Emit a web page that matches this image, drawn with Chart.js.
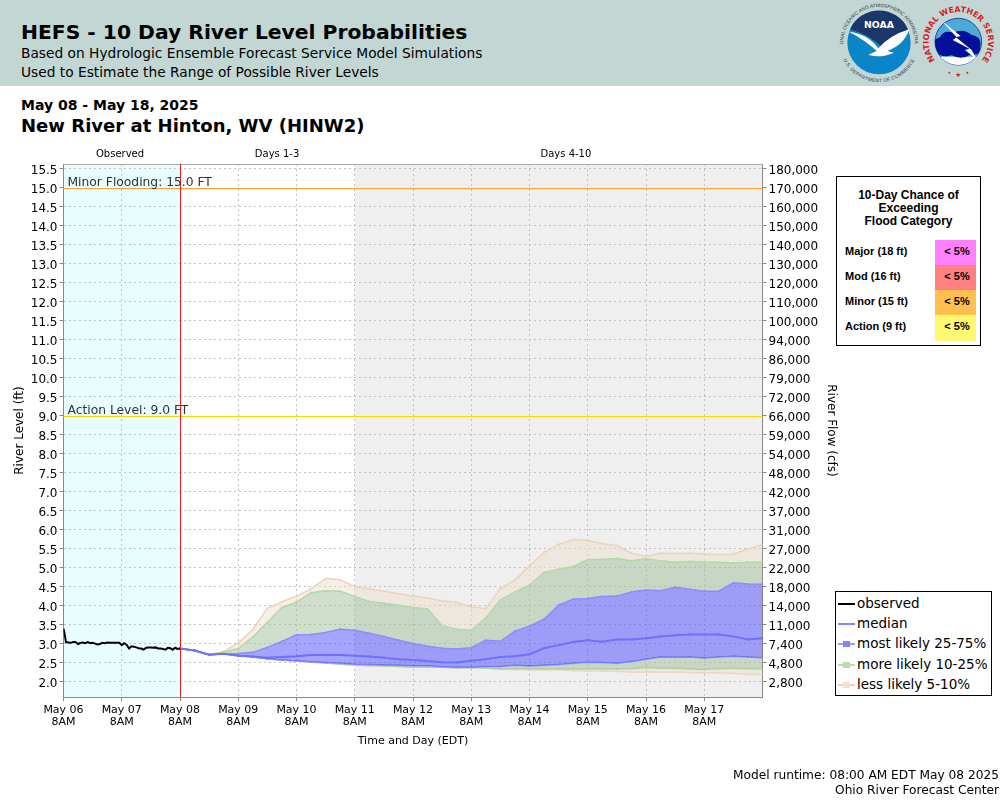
<!DOCTYPE html>
<html>
<head>
<meta charset="utf-8">
<title>HEFS - 10 Day River Level Probabilities</title>
<script src="https://cdn.jsdelivr.net/npm/chart.js@4"></script>
<style>
body { margin: 0; background: #fff; font-family: "DejaVu Sans", sans-serif; color: #000; }
#page { position: relative; width: 1000px; height: 800px; overflow: hidden; }
#head { position: absolute; left: 0; top: 0; width: 1000px; height: 86px; background: #c2d7d4; }
.t { position: absolute; white-space: nowrap; line-height: 1; }
#plot { position: absolute; left: 0; top: 0; }
#flood { position: absolute; left: 836px; top: 176px; width: 143px; height: 168px; border: 1px solid #000; background: #fff; font: bold 11px "Liberation Sans", sans-serif; }
#flood .h { position: absolute; left: 0; width: 100%; top: 12px; text-align: center; font-size: 12px; line-height: 13px; }
#flood .lab { position: absolute; left: 8px; }
#flood .cell { position: absolute; left: 98px; width: 41px; text-align: center; text-indent: 3px; }
#legend { position: absolute; left: 835px; top: 591px; width: 155px; height: 103px; border: 1px solid #000; background: #fff; font-size: 13.5px; }
#legend .row { position: absolute; left: 21px; white-space: nowrap; line-height: 16px; }
#legend .ln { position: absolute; left: 2px; width: 17px; height: 2px; }
#legend .mk { position: absolute; left: 7px; width: 7px; height: 6px; }
</style>
</head>
<body>
<div id="page">
  <div id="head"></div>
  <div class="t" style="left:21px;top:22px;font-size:20.3px;font-weight:bold">HEFS - 10 Day River Level Probabilities</div>
  <div class="t" style="left:21px;top:47px;font-size:13.75px">Based on Hydrologic Ensemble Forecast Service Model Simulations</div>
  <div class="t" style="left:21px;top:66px;font-size:13.75px">Used to Estimate the Range of Possible River Levels</div>
  <div class="t" style="left:21px;top:98px;font-size:14px;font-weight:bold">May 08 - May 18, 2025</div>
  <div class="t" style="left:21px;top:117px;font-size:18.05px;font-weight:bold">New River at Hinton, WV (HINW2)</div>

  <svg style="position:absolute;left:830px;top:0" width="170" height="90" viewBox="0 0 510 270">
    <defs>
      <path id="noaaTop" d="M 40 128 A 107 107 0 0 1 254 128"/>
      <path id="noaaBot" d="M 38 128 A 109 109 0 0 0 256 128" />
      <path id="nwsArc" d="M 321 187 A 89 89 0 1 1 449 187"/>
      <clipPath id="nwsClip"><circle cx="385" cy="125" r="70"/></clipPath>
    </defs>
    <circle cx="147" cy="128" r="95" fill="#0a85c7"/>
    <path d="M 60 88 A 95 95 0 0 1 234 88 Q 190 110 160 145 Q 120 105 60 88 Z" fill="#1b3668"/>
    <path d="M 57 95 Q 115 102 145 145 Q 180 105 238 88 Q 222 135 172 153 L 192 158 Q 150 176 115 164 L 140 153 Q 108 122 57 95 Z" fill="#fff"/>
    <text x="147" y="84" text-anchor="middle" font-family="DejaVu Sans" font-weight="bold" font-size="28" fill="#fff">NOAA</text>
    <text font-family="Liberation Sans" font-size="14.5" fill="#234"><textPath href="#noaaTop" startOffset="50%" text-anchor="middle">NATIONAL OCEANIC AND ATMOSPHERIC ADMINISTRATION</textPath></text>
    <text font-family="Liberation Sans" font-size="14.5" fill="#234"><textPath href="#noaaBot" startOffset="50%" text-anchor="middle" dominant-baseline="hanging">U.S. DEPARTMENT OF COMMERCE</textPath></text>

    <circle cx="385" cy="125" r="70" fill="#4ea8d8" stroke="#1b4f9c" stroke-width="3"/>
    <g clip-path="url(#nwsClip)">
      <path d="M 315 170 L 460 170 L 460 200 L 315 200 Z" fill="#fff"/>
      <path d="M 312 150 Q 300 120 330 112 Q 340 88 370 98 Q 400 84 424 104 Q 458 110 450 140 Q 454 168 424 163 Q 395 182 365 166 Q 332 176 312 150 Z" fill="#03109a"/>
      <path d="M 335 62 L 392 108 L 378 112 L 425 150 L 440 178 L 405 150 L 418 146 L 368 120 L 380 112 Z" fill="#fff"/>
    </g>
    <text font-family="DejaVu Sans" font-weight="bold" font-size="24" fill="#d4202a"><textPath href="#nwsArc" startOffset="50%" text-anchor="middle">NATIONAL WEATHER SERVICE</textPath></text>
    <text x="385" y="232" text-anchor="middle" font-size="20" fill="#d4202a">★</text>
    <circle cx="358" cy="218" r="3" fill="#d4202a"/><circle cx="412" cy="218" r="3" fill="#d4202a"/>
  </svg>

  <canvas id="plot" width="1000" height="800"></canvas>

  <div id="flood"></div>
  <div id="legend"></div>

  <div class="t" style="right:1px;top:769px;font-size:12.2px">Model runtime: 08:00 AM EDT May 08 2025</div>
  <div class="t" style="right:1px;top:784px;font-size:12.2px">Ohio River Forecast Center</div>
</div>

<script>
// hours since May 06 8AM
const obsHours = [0,0.5,1,2,3,4,5,6,7,8,9,10,11,12,13,14,15,16,17,18,19,20,21,22,23,24,
25,26,27,28,29,30,31,32,33,34,35,36,37,38,39,40,41,42,43,44,45,46,47,48];
const observed = [3.40,3.25,3.05,3.04,3.03,3.05,3.05,3.00,3.03,3.04,3.02,3.05,3.02,3.03,3.01,2.99,3.00,3.03,3.02,3.04,3.03,3.03,3.03,3.03,3.03,2.97,
3.02,2.98,2.88,2.94,2.93,2.91,2.89,2.88,2.85,2.90,2.91,2.91,2.90,2.91,2.88,2.88,2.87,2.85,2.90,2.89,2.85,2.90,2.87,2.88];

const fcstHours = [48,54,60,66,72,78,84,90,96,102,108,114,120,126,132,138,144,150,156,162,168,
174,180,186,192,198,204,210,216,222,228,234,240,246,252,258,264,270,276,282,288];
const median = [2.88,2.83,2.72,2.74,2.69,2.67,2.64,2.66,2.68,2.71,2.71,2.71,2.69,2.67,2.64,2.60,2.58,2.55,2.52,2.51,2.56,
2.60,2.66,2.68,2.73,2.89,2.97,3.05,3.10,3.06,3.12,3.12,3.15,3.20,3.23,3.25,3.25,3.25,3.20,3.12,3.15];
const mostUpper = [2.88,2.83,2.72,2.74,2.75,2.78,2.91,3.07,3.24,3.25,3.30,3.39,3.36,3.28,3.20,3.10,3.01,2.94,2.89,2.87,2.90,
3.10,3.07,3.34,3.47,3.65,4.02,4.18,4.20,4.25,4.26,4.37,4.42,4.40,4.49,4.44,4.39,4.39,4.61,4.58,4.57];
const mostLower = [2.88,2.83,2.72,2.74,2.70,2.66,2.61,2.58,2.56,2.53,2.51,2.49,2.47,2.46,2.45,2.44,2.43,2.43,2.40,2.39,2.39,
2.41,2.41,2.44,2.42,2.44,2.46,2.49,2.52,2.51,2.49,2.54,2.60,2.66,2.65,2.66,2.63,2.66,2.68,2.66,2.64];
const moreUpper = [2.88,2.83,2.72,2.78,2.88,3.18,3.57,3.96,4.10,4.35,4.40,4.39,4.25,4.12,4.07,4.02,3.96,3.92,3.48,3.39,3.36,
3.69,4.16,4.37,4.55,4.88,4.97,5.04,5.22,5.23,5.25,5.19,5.24,5.19,5.15,5.17,5.16,5.15,5.13,5.15,5.15];
const moreLower = [2.88,2.83,2.72,2.74,2.70,2.66,2.61,2.57,2.55,2.52,2.50,2.47,2.45,2.43,2.42,2.41,2.39,2.39,2.39,2.37,2.37,
2.37,2.34,2.34,2.34,2.34,2.34,2.34,2.35,2.34,2.34,2.35,2.38,2.36,2.36,2.34,2.33,2.35,2.36,2.35,2.34];
const lessUpper = [2.88,2.83,2.72,2.80,3.03,3.38,3.94,4.11,4.26,4.45,4.72,4.69,4.51,4.45,4.39,4.32,4.26,4.21,4.14,4.09,3.98,
3.93,4.46,4.68,5.06,5.41,5.62,5.75,5.72,5.64,5.59,5.39,5.30,5.39,5.38,5.39,5.37,5.35,5.36,5.50,5.62];
const lessLower = [2.88,2.83,2.72,2.74,2.70,2.66,2.61,2.57,2.55,2.52,2.50,2.47,2.45,2.43,2.42,2.41,2.39,2.39,2.39,2.37,2.37,
2.37,2.34,2.33,2.32,2.32,2.32,2.30,2.29,2.29,2.28,2.26,2.27,2.26,2.26,2.25,2.24,2.24,2.23,2.20,2.20];

const levelTicks = [2,2.5,3,3.5,4,4.5,5,5.5,6,6.5,7,7.5,8,8.5,9,9.5,10,10.5,11,11.5,12,12.5,13,13.5,14,14.5,15,15.5];
const flowTicks = ['2,800','4,800','7,400','11,000','14,000','18,000','22,000','27,000','31,000','37,000','42,000','48,000','54,000','59,000',
'66,000','72,000','79,000','86,000','94,000','100,000','110,000','120,000','130,000','140,000','150,000','160,000','170,000','180,000'];
const dayHours = [0,24,48,72,96,120,144,168,192,216,240,264];
const dayLabels = ['May 06','May 07','May 08','May 09','May 10','May 11','May 12','May 13','May 14','May 15','May 16','May 17'];

const minorLevel = 15;
const actionLevel = 9;
const nowHour = 48;
const day4Hour = 120;
const endHour = 288;
const levelMin = 1.605;
const levelMax = 15.63;

const floodLabels = ['Major (18 ft)','Mod (16 ft)','Minor (15 ft)','Action (9 ft)'];
const floodChance = ['< 5%','< 5%','< 5%','< 5%'];
const floodColors = ['#ff80ff','#ff8080','#ffc050','#fff870'];

const legendLabels = ['observed','median','most likely 25-75%','more likely 10-25%','less likely 5-10%'];
const legendLines = ['#000','#8484ff','#9c9cff','#bcdcb0','#ead4bc'];
const legendMarks = [null,null,'#8484f4','#b8dcac','#efe2d2'];

// flood table and legend
const flood = document.getElementById('flood');
flood.innerHTML = '<div class="h">10-Day Chance of<br>Exceeding<br>Flood Category</div>';
floodLabels.forEach(function (lab, i) {
  const top = 63 + i * 25;
  flood.innerHTML += '<div class="lab" style="top:' + (top + 5) + 'px">' + lab + '</div>' +
    '<div class="cell" style="top:' + top + 'px;height:' + (i == 3 ? 26 : 25) + 'px;line-height:' + 23 + 'px;background:' + floodColors[i] + '">' + floodChance[i].replace('<', '&lt;') + '</div>';
});
const legend = document.getElementById('legend');
legendLabels.forEach(function (lab, i) {
  const top = 3 + i * 20.2;
  let html = '<div class="row" style="top:' + top + 'px">' + lab + '</div>' +
    '<div class="ln" style="top:' + (top + 8) + 'px;background:' + legendLines[i] + '"></div>';
  if (legendMarks[i]) html += '<div class="mk" style="top:' + (top + 6) + 'px;background:' + legendMarks[i] + '"></div>';
  legend.innerHTML += html;
});

function pts(xs, ys) {
  return xs.map(function (x, i) { return { x: x, y: ys[i] }; });
}

const tanFill = 'rgba(237,223,205,0.5)';
const greenFill = 'rgba(161,191,151,0.5)';
const blueFill = 'rgba(75,75,255,0.5)';

function band(label, ys, line, fill, target) {
  return {
    label: label, data: pts(fcstHours, ys), borderColor: line, borderWidth: 1.5,
    pointRadius: 1.2, pointStyle: 'rect', pointBackgroundColor: line, pointBorderWidth: 0,
    tension: 0, fill: target === null ? false : { target: target }, backgroundColor: fill
  };
}

// shading behind the grid, flood and now lines, outline and captions on top
const plotExtras = {
  id: 'plotExtras',
  beforeDraw: function (chart) {
    const c = chart.ctx, a = chart.chartArea, x = chart.scales.x;
    c.save();
    c.fillStyle = '#e8fdfd';
    c.fillRect(x.getPixelForValue(0), a.top, x.getPixelForValue(nowHour) - x.getPixelForValue(0), a.height);
    c.fillStyle = '#efefef';
    c.fillRect(x.getPixelForValue(day4Hour), a.top, x.getPixelForValue(endHour) - x.getPixelForValue(day4Hour), a.height);
    c.restore();
  },
  afterDraw: function (chart) {
    const c = chart.ctx, a = chart.chartArea, x = chart.scales.x, y = chart.scales.y;
    c.save();
    c.lineWidth = 1;
    c.strokeStyle = '#aaa';
    c.beginPath();
    c.moveTo(a.left, a.top + 0.5); c.lineTo(a.right + 0.5, a.top + 0.5);
    c.stroke();

    const py15 = Math.round(y.getPixelForValue(minorLevel)) + 0.5;
    const py9 = Math.round(y.getPixelForValue(actionLevel)) + 0.5;
    c.strokeStyle = '#ffa030';
    c.beginPath(); c.moveTo(a.left, py15); c.lineTo(a.right, py15); c.stroke();
    c.strokeStyle = '#ffd400';
    c.beginPath(); c.moveTo(a.left, py9); c.lineTo(a.right, py9); c.stroke();
    const px = Math.floor(x.getPixelForValue(nowHour)) + 0.5;
    c.strokeStyle = '#f01818';
    c.beginPath(); c.moveTo(px, a.top); c.lineTo(px, a.bottom); c.stroke();

    c.fillStyle = '#333';
    c.font = '12.3px "DejaVu Sans"';
    c.textBaseline = 'alphabetic';
    c.fillText('Minor Flooding: 15.0 FT', a.left + 4, py15 - 3);
    c.fillText('Action Level: 9.0 FT', a.left + 4, py9 - 3);
    c.fillStyle = '#000';
    c.font = '10px "DejaVu Sans"';
    c.textAlign = 'center';
    c.fillText('Observed', x.getPixelForValue(23.3), 157);
    c.fillText('Days 1-3', x.getPixelForValue(88), 157);
    c.fillText('Days 4-10', x.getPixelForValue(207), 157);
    c.restore();
  }
};

new Chart(document.getElementById('plot'), {
  type: 'line',
  plugins: [plotExtras],
  data: {
    datasets: [
      { label: 'observed', data: pts(obsHours, observed), borderColor: '#000', borderWidth: 2, pointRadius: 0, tension: 0 },
      { label: 'median', data: pts(fcstHours, median), borderColor: '#7070ff', borderWidth: 2, pointRadius: 1.3, pointStyle: 'rect', pointBackgroundColor: '#7070ff', pointBorderWidth: 0, tension: 0 },
      band('most likely upper', mostUpper, '#8c8cff', blueFill, 3),   // 2
      band('most likely lower', mostLower, '#8c8cff', greenFill, 5),  // 3
      band('more likely upper', moreUpper, '#b4d8a8', greenFill, 2),  // 4
      band('more likely lower', moreLower, '#b4d8a8', tanFill, 7),    // 5
      band('less likely upper', lessUpper, '#ead4bc', tanFill, 4),    // 6
      band('less likely lower', lessLower, '#ead4bc', tanFill, null)  // 7
    ]
  },
  options: {
    responsive: false,
    animation: false,
    devicePixelRatio: 1,
    layout: { padding: { left: 13, right: 162, top: 164, bottom: 52 } },
    plugins: { legend: { display: false }, tooltip: { enabled: false } },
    scales: {
      x: {
        type: 'linear', min: 0, max: endHour,
        afterBuildTicks: function (s) { s.ticks = dayHours.map(function (v) { return { value: v }; }); },
        afterFit: function (s) { s.height = 51; },
        grid: { color: '#c0c0c0', tickColor: '#888', tickLength: 4 },
        border: { dash: [2, 3], color: '#888' },
        ticks: {
          autoSkip: false, maxRotation: 0, padding: 3, color: '#000', font: { family: 'DejaVu Sans', size: 11, lineHeight: 1.1 },
          callback: function (v) { return [dayLabels[dayHours.indexOf(v)], '8AM']; }
        },
        title: { display: true, text: 'Time and Day (EDT)', color: '#000', font: { family: 'DejaVu Sans', size: 11 }, padding: 0 }
      },
      y: {
        position: 'left', min: levelMin, max: levelMax,
        afterBuildTicks: function (s) { s.ticks = levelTicks.map(function (v) { return { value: v }; }); },
        afterFit: function (s) { s.width = 50.5; },
        grid: {
          // no grid line under the two flood lines
          color: function (ctx) {
            if (ctx.tick && (ctx.tick.value == minorLevel || ctx.tick.value == actionLevel)) return 'rgba(0,0,0,0)';
            return '#c0c0c0';
          },
          tickColor: '#888', tickLength: 4
        },
        border: { dash: [2, 3], color: '#888' },
        ticks: {
          autoSkip: false, padding: 2, labelOffset: 1.5, color: '#000', font: { family: 'DejaVu Sans', size: 12 },
          callback: function (v) { return v.toFixed(1); }
        },
        title: { display: true, text: 'River Level (ft)', color: '#000', font: { family: 'DejaVu Sans', size: 12 }, padding: 0 }
      },
      y2: {
        position: 'right', min: levelMin, max: levelMax,
        afterBuildTicks: function (s) { s.ticks = levelTicks.map(function (v) { return { value: v }; }); },
        afterFit: function (s) { s.width = 75.5; },
        grid: { drawOnChartArea: false, tickColor: '#888', tickLength: 4 },
        border: { color: '#888' },
        ticks: {
          autoSkip: false, padding: 2, labelOffset: 1.5, color: '#000', font: { family: 'DejaVu Sans', size: 12 },
          callback: function (v) { return flowTicks[levelTicks.indexOf(v)]; }
        },
        title: { display: true, text: 'River Flow (cfs)', color: '#000', font: { family: 'DejaVu Sans', size: 12 }, padding: 0 }
      }
    }
  }
});
</script>
</body>
</html>
